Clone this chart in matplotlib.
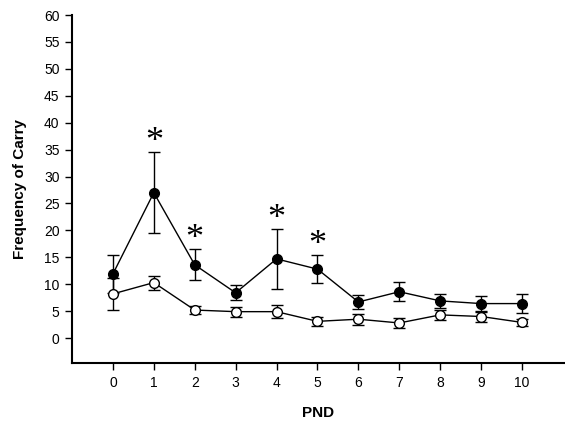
import numpy as np
import matplotlib
matplotlib.use('Agg')
import matplotlib.pyplot as plt

plt.rcParams['font.family'] = ['Liberation Sans', 'DejaVu Sans']

# --- Data ---
pnd = [0, 1, 2, 3, 4, 5, 6, 7, 8, 9, 10]
filled_mean = [11.9, 27.0, 13.6, 8.4, 14.7, 12.8, 6.7, 8.6, 6.9, 6.4, 6.4]
filled_sem = [3.6, 7.5, 2.9, 1.4, 5.5, 2.6, 1.3, 1.8, 1.3, 1.5, 1.7]
open_mean = [8.2, 10.3, 5.2, 4.9, 4.9, 3.1, 3.5, 2.8, 4.3, 4.0, 2.9]
open_sem = [3.0, 1.3, 0.8, 0.9, 1.2, 0.9, 1.0, 0.9, 1.0, 1.1, 0.7]
signif = [1, 2, 4, 5]

fig = plt.figure(figsize=(5.65, 4.29), dpi=100)
ax = fig.add_axes([0.1274, 0.1538, 0.8726, 0.8112])

ax.errorbar(pnd, filled_mean, yerr=filled_sem, fmt='-o', color='black',
            mfc='black', mec='black', ms=7, lw=1, elinewidth=1,
            capsize=4.3, capthick=1, zorder=3)
ax.errorbar(pnd, open_mean, yerr=open_sem, fmt='-o', color='black',
            mfc='white', mec='black', ms=7, mew=1, lw=1, elinewidth=1,
            capsize=4.3, capthick=1, zorder=4)

# asterisks above the significant days
for i in signif:
    ax.text(pnd[i], filled_mean[i] + filled_sem[i] - 1.3, '*',
            ha='center', va='bottom', fontsize=26,
            family='Liberation Serif')

ax.set_xlim(-1.0, 11.05)
ax.set_ylim(-4.64, 60)
ax.set_xticks(pnd)
ax.set_yticks(np.arange(0, 61, 5))
ax.spines['top'].set_visible(False)
ax.spines['right'].set_visible(False)
ax.spines['left'].set_linewidth(1.5)
ax.spines['bottom'].set_linewidth(1.5)
ax.tick_params(direction='out', length=5, width=1, labelsize=10, pad=4)

ax.set_xlabel('PND', fontsize=11, fontweight='bold', labelpad=12)
ax.set_ylabel('Frequency of Carry', fontsize=11, fontweight='bold', labelpad=12)

plt.savefig('out.png', dpi=100)
